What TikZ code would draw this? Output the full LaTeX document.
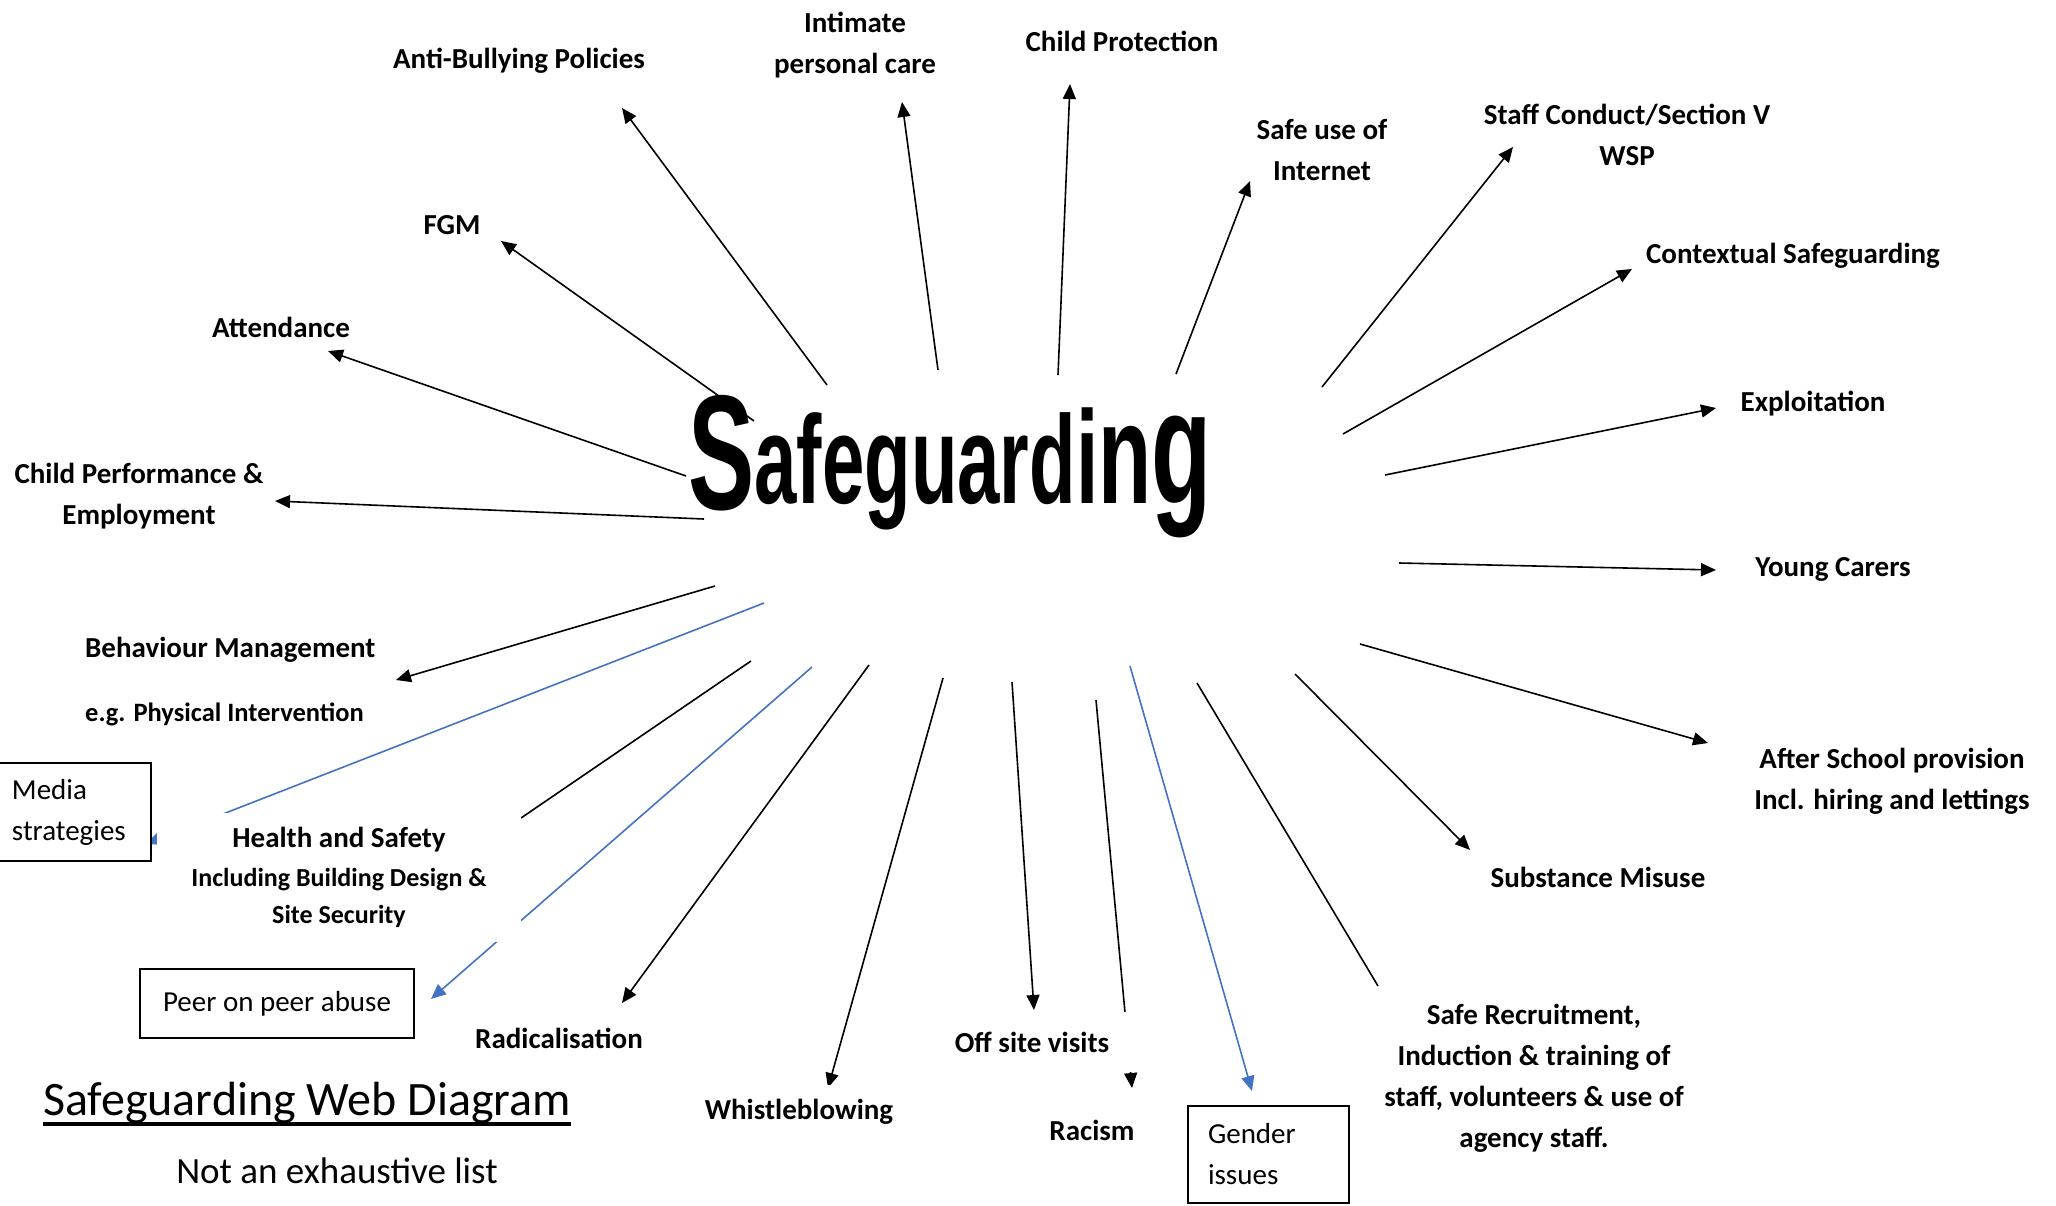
\documentclass[tikz,border=0pt]{standalone}
\usepackage{fontspec}
\usepackage{graphicx}
\setmainfont{Carlito}
\newfontfamily\hubfont{Liberation Sans}
\usetikzlibrary{arrows.meta}
\definecolor{wordblue}{RGB}{68,114,196}
\tikzset{
      topic/.style={
        font=\bfseries\fontsize{29}{41}\selectfont,
        align=center,
        inner sep=0pt
      },
      framebox/.style={
        draw=black,
        line width=2pt,
        fill=white,
        font=\fontsize{29}{41}\selectfont,
        align=left,
        inner ysep=0pt
      },
      hub/.style={
        font=\hubfont\bfseries,
        anchor=base,
        inner sep=0pt
      },
      spoke/.style={
        line width=1.6pt,
        -{Triangle[length=15pt,width=13pt]}
      },
      bluespoke/.style={spoke, draw=wordblue},
      plainspoke/.style={line width=1.6pt}
    }
\begin{document}
\begin{tikzpicture}[x=1pt,y=-1pt]
    \useasboundingbox (0,0) rectangle (2056,1205);
    \coordinate (bully-t) at (827,385);     \coordinate (bully-h) at (622,108);
    \coordinate (intimate-t) at (938,370);  \coordinate (intimate-h) at (902,102);
    \coordinate (protect-t) at (1058,375);  \coordinate (protect-h) at (1070,84);
    \coordinate (internet-t) at (1176,374); \coordinate (internet-h) at (1250,181);
    \coordinate (staff-t) at (1322,387);    \coordinate (staff-h) at (1513,147);
    \coordinate (context-t) at (1343,434);  \coordinate (context-h) at (1632,269);
    \coordinate (exploit-t) at (1385,475);  \coordinate (exploit-h) at (1716,408);
    \coordinate (carers-t) at (1399,563);   \coordinate (carers-h) at (1716,570);
    \coordinate (after-t) at (1360,644);    \coordinate (after-h) at (1708,743);
    \coordinate (drugs-t) at (1295,674);    \coordinate (drugs-h) at (1470,850);
    \coordinate (recruit-t) at (1197,683);  \coordinate (recruit-h) at (1378,986);
    \coordinate (gender-t) at (1130,666);   \coordinate (gender-h) at (1252,1091);
    \coordinate (racism-t) at (1096,700);   \coordinate (racism-h) at (1132,1088);
    \coordinate (offsite-t) at (1012,682);  \coordinate (offsite-h) at (1034,1010);
    \coordinate (whistle-t) at (943,678);   \coordinate (whistle-h) at (828,1088);
    \coordinate (radical-t) at (869,665);   \coordinate (radical-h) at (622,1003);
    \coordinate (peer-t) at (812,667);      \coordinate (peer-h) at (431,999);
    \coordinate (health-t) at (751,661);    \coordinate (health-h) at (521,818);
    \coordinate (media-t) at (764,603);     \coordinate (media-h) at (146,844);
    \coordinate (behav-t) at (715,586);     \coordinate (behav-h) at (396,680);
    \coordinate (perform-t) at (704,519);   \coordinate (perform-h) at (275,501);
    \coordinate (attend-t) at (686,476);    \coordinate (attend-h) at (328,351);
    \coordinate (fgm-t) at (754,421);       \coordinate (fgm-h) at (501,241);
    \foreach \s in {bully,intimate,protect,internet,staff,context,exploit,carers,after,drugs,racism,offsite,whistle,radical,behav,perform,attend,fgm}
      \draw[spoke] (\s-t) -- (\s-h);
    \foreach \s in {gender,peer,media}
      \draw[bluespoke] (\s-t) -- (\s-h);
    \draw[plainspoke] (recruit-t) -- (recruit-h);
    \draw[plainspoke] (health-t) -- (health-h);
    \node[hub] (hub) at (950,503) {\scalebox{0.68}[1.12]{\fontsize{146}{146}\selectfont\raisebox{-6pt}{S}\fontsize{112}{112}\selectfont afeguard\fontsize{118}{118}\selectfont i\fontsize{128}{128}\selectfont n\fontsize{145}{145}\selectfont g}};
    \node[topic] (bully) at (519,61) {Anti-Bullying Policies};
    \node[topic] (intimate) at (855,45) {Intimate\\personal care};
    \node[topic] (protect) at (1122,41) {Child Protection};
    \node[topic] (internet) at (1322,150) {Safe use of\\Internet};
    \node[topic] (staff) at (1627,135) {Staff Conduct/Section V\\WSP};
    \node[topic] (context) at (1793,256) {Contextual Safeguarding};
    \node[topic] (exploit) at (1813,404) {Exploitation};
    \node[topic] (carers) at (1833,569) {Young Carers};
    \node[topic] (after) at (1892,781) {After School provision\\Incl. hiring and lettings};
    \node[topic] (drugs) at (1598,877) {Substance Misuse};
    \node[topic] (recruit) at (1534,1078) {Safe Recruitment,\\Induction \& training of\\staff, volunteers \& use of\\agency staff.};
    \node[framebox, text width=121pt, inner xsep=20pt, minimum height=97pt] (gender) at (1268.5,1154.5) {Gender\\issues};
    \node[topic] (racism) at (1092,1130) {Racism};
    \node[topic, fill=white, minimum width=216pt, minimum height=60pt] (offsite) at (1032,1042) {Off site visits};
    \node[topic, fill=white, inner xsep=10pt, inner ysep=14pt] (whistle) at (799,1112) {Whistleblowing};
    \node[topic] (radical) at (559,1038) {Radicalisation};
    \node[framebox, minimum width=274pt, minimum height=69pt] (peer) at (277,1003.5) {Peer on peer abuse};
    \node[topic, fill=white, minimum width=364pt, minimum height=129pt] (health) at (339,877) {Health and Safety\\[-2pt]{\fontsize{26}{37}\selectfont Including Building Design \&}\\[-4pt]{\fontsize{26}{37}\selectfont Site Security}};
    \node[framebox, text width=125pt, inner xsep=14pt, minimum height=98pt] (media) at (74.5,812) {Media\\strategies};
    \node[topic, anchor=west] (behav) at (85,650) {Behaviour Management};
    \node[topic, anchor=west, font=\bfseries\fontsize{26.5}{32}\selectfont] (behavnote) at (85,714) {e.g. Physical Intervention};
    \node[topic] (perform) at (139,496) {Child Performance \&\\Employment};
    \node[topic] (attend) at (281,327) {Attendance};
    \node[topic] (fgm) at (452,225) {FGM};
    \node[anchor=base, inner sep=0pt, font=\fontsize{48}{56}\selectfont] (title) at (307,1115) {Safeguarding Web Diagram};
    \draw[line width=3.5pt] ([yshift=-9pt]title.base west) -- ([yshift=-9pt]title.base east);
    \node[anchor=base, inner sep=0pt, font=\fontsize{37}{44}\selectfont] (listnote) at (337,1183) {Not an exhaustive list};
    \end{tikzpicture}
\end{document}
